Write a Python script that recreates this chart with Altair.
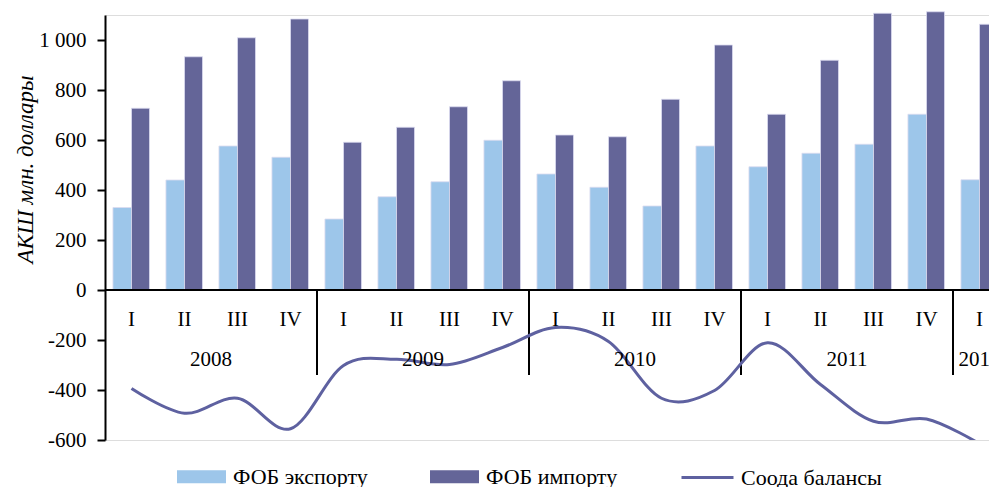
import altair as alt
import pandas as pd

# ---- data ----
quarters = ["I", "II", "III", "IV"] * 4 + ["I"]
export_fob = [330, 440, 576, 531, 284, 373, 433, 599, 464, 411, 336, 576, 493, 547, 583, 703, 441]
import_fob = [727, 933, 1009, 1084, 591, 651, 733, 837, 620, 613, 763, 980, 703, 919, 1107, 1113, 1063]
balance = [-394, -493, -433, -555, -302, -277, -298, -230, -150, -206, -433, -402, -211, -378, -525, -516, -615]
year_labels = ["2008", "2009", "2010", "2011", "2012"]
year_centers = [2, 6, 10, 14, 16.5]
year_separators = [4, 8, 12, 16]
series_names = ["ФОБ экспорту", "ФОБ импорту", "Соода балансы"]
y_ticks = [-600, -400, -200, 0, 200, 400, 600, 800, 1000]

LIGHT = "#9DC6EA"
DARK = "#646598"
LINE = "#5E61A0"
FONT = "Liberation Serif"

n = len(quarters)
bar_rows = []
for i in range(n):
    c = i + 0.5
    bar_rows.append({"series": series_names[0], "x0": c - 0.35, "x1": c, "v": export_fob[i]})
    bar_rows.append({"series": series_names[1], "x0": c, "x1": c + 0.34, "v": import_fob[i]})
bars_df = pd.DataFrame(bar_rows)

line_df = pd.DataFrame({"xc": [i + 0.5 for i in range(n)], "bal": balance, "series": series_names[2]})
q_df = pd.DataFrame({"xc": [i + 0.5 for i in range(n)], "q": quarters})
yr_df = pd.DataFrame({"xc": year_centers, "yr": year_labels})
sep_df = pd.DataFrame({"sx": year_separators})

PLOT_W = 884
STEP = 53.0
xscale = alt.Scale(domain=[0, PLOT_W / STEP], nice=False, zero=False)
yscale = alt.Scale(domain=[-600, 1100], nice=False, zero=False)

yaxis = alt.Axis(
    values=y_ticks,
    labelExpr="datum.value >= 1000 ? replace(format(datum.value, ','), ',', ' ') : '' + datum.value",
    labelFont=FONT, labelFontSize=21, labelColor="black", labelPadding=11,
    tickSize=8, tickWidth=2, tickColor="black",
    domainWidth=2, domainColor="black", grid=False,
    title="АКШ млн. доллары", titleFont=FONT, titleFontSize=23, titleFontStyle="italic",
    titleFontWeight="normal", titleColor="black", titleX=-68, titleY=154,
)

bars = alt.Chart(bars_df).mark_bar(stroke="#dcdcf0", strokeWidth=0.8).encode(
    x=alt.X("x0:Q", scale=xscale, axis=None),
    x2="x1:Q",
    y=alt.Y("v:Q", scale=yscale, axis=yaxis),
    y2=alt.datum(0),
    fill=alt.Fill(
        "series:N",
        scale=alt.Scale(domain=series_names[:2], range=[LIGHT, DARK]),
        legend=alt.Legend(
            title=None, orient="none", legendX=72, legendY=437, direction="horizontal",
            symbolType="M-1,-0.27L1,-0.27L1,0.27L-1,0.27Z", symbolSize=2401,
            symbolStrokeWidth=0, symbolOpacity=1,
            labelFont=FONT, labelFontSize=22, labelColor="black", labelOffset=7,
            columnPadding=62, labelLimit=300,
        ),
    ),
)

zero_line = alt.Chart(pd.DataFrame({"z": [0]})).mark_rule(color="black", strokeWidth=2).encode(
    y=alt.Y("z:Q", scale=yscale)
)

seps = alt.Chart(sep_df).mark_rule(color="black", strokeWidth=2).encode(
    x=alt.X("sx:Q", scale=xscale),
    y=alt.datum(0),
    y2=alt.datum(-340),
)

line = alt.Chart(line_df).mark_line(interpolate="cardinal", strokeWidth=3, clip=True).encode(
    x=alt.X("xc:Q", scale=xscale),
    y=alt.Y("bal:Q", scale=yscale),
    stroke=alt.Stroke(
        "series:N",
        scale=alt.Scale(domain=[series_names[2]], range=[LINE]),
        legend=alt.Legend(
            title=None, orient="none", legendX=575, legendY=435,
            symbolType="stroke", symbolSize=2704, symbolStrokeWidth=3,
            labelFont=FONT, labelFontSize=22, labelColor="black", labelOffset=6,
            labelLimit=300,
        ),
    ),
)

q_text = alt.Chart(q_df).mark_text(font=FONT, fontSize=21, color="black", baseline="middle").encode(
    x=alt.X("xc:Q", scale=xscale),
    y=alt.datum(-120),
    text="q:N",
)

yr_text = alt.Chart(yr_df).mark_text(font=FONT, fontSize=21, color="black", baseline="middle").encode(
    x=alt.X("xc:Q", scale=xscale),
    y=alt.datum(-280),
    text="yr:N",
)

chart = alt.layer(bars, zero_line, seps, line, q_text, yr_text).resolve_scale(
    fill="independent", stroke="independent"
).properties(
    width=PLOT_W,
    height=425,
    padding={"left": 97, "top": 7, "right": 0, "bottom": 47},
    autosize=alt.AutoSizeParams(type="none"),
).configure_view(stroke=None).configure(background="white")

chart.save("out.html", embed_options={"renderer": "svg", "actions": False})
